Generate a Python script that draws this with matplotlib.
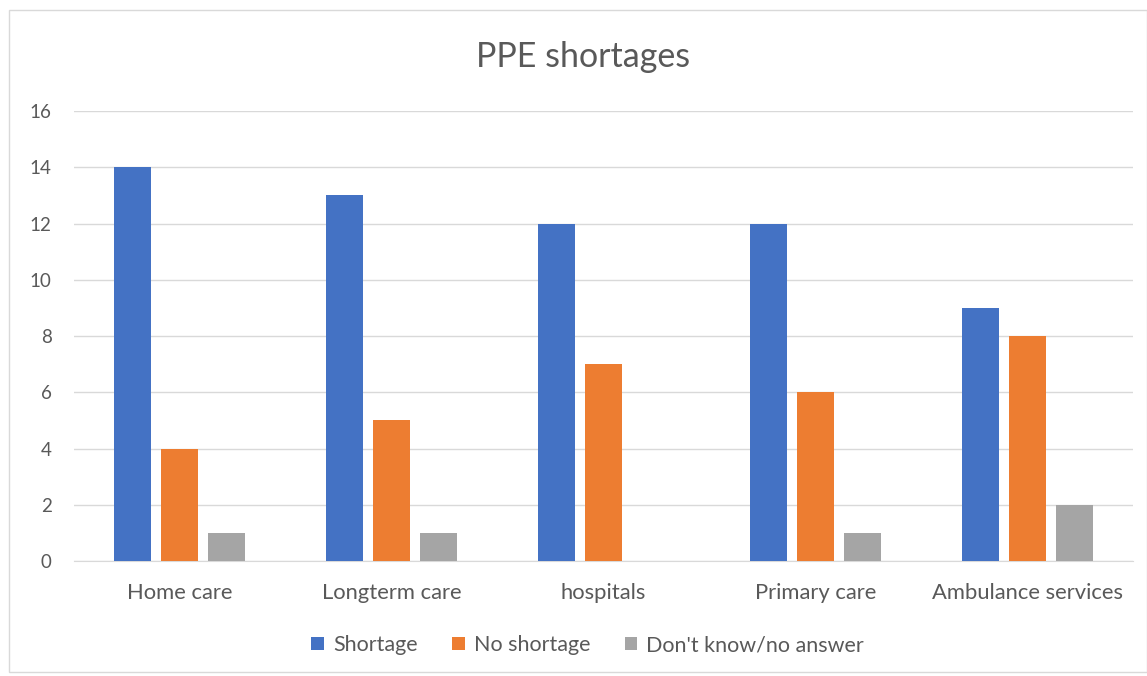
import matplotlib.pyplot as plt
import numpy as np
from matplotlib.patches import Rectangle

plt.rcParams['font.family'] = ['Lato', 'DejaVu Sans']

categories = ["Home care", "Longterm care", "hospitals", "Primary care", "Ambulance services"]
shortage = [14, 13, 12, 12, 9]
no_shortage = [4, 5, 7, 6, 8]
dont_know = [1, 1, 0, 1, 2]

series = [("Shortage", shortage, "#4472C4"),
          ("No shortage", no_shortage, "#ED7D31"),
          ("Don't know/no answer", dont_know, "#A5A5A5")]

text_col = "#595959"

fig = plt.figure(figsize=(11.47, 6.76), dpi=100)
ax = fig.add_axes([0.0645, 0.1701, 0.9233, 0.6657])

x = np.arange(len(categories))
width = 0.175
step = 0.222
for i, (name, vals, col) in enumerate(series):
    ax.bar(x + (i - 1) * step, vals, width, color=col, label=name, zorder=3)

ax.set_xlim(-0.5, len(categories) - 0.5)
ax.set_ylim(0, 16)
ax.set_yticks(range(0, 17, 2))
ax.set_xticks(x)
ax.set_xticklabels(categories)
ax.grid(axis='y', color="#D9D9D9", linewidth=1, zorder=0)
for s in ["top", "right", "left"]:
    ax.spines[s].set_visible(False)
ax.spines["bottom"].set_color("#D9D9D9")
ax.tick_params(axis='y', length=0, labelsize=13.5, colors=text_col, pad=16)
ax.tick_params(axis='x', length=0, labelsize=15.8, colors=text_col, pad=16)

fig.text(0.508, 0.916, "PPE shortages", ha='center', va='center',
         fontsize=24.5, color=text_col)

ax.legend(loc='center', bbox_to_anchor=(0.485, -0.187), ncol=3, frameon=False,
          fontsize=15.5, labelcolor=text_col, handlelength=0.6, handleheight=0.6,
          handletextpad=0.4, columnspacing=1.6)

fig.patches.append(Rectangle((9 / 1147, 4 / 676), 1 - 9 / 1147, 1 - 14 / 676,
                             transform=fig.transFigure, fill=False,
                             edgecolor="#D9D9D9", linewidth=1))

fig.savefig("out.png", dpi=100)
